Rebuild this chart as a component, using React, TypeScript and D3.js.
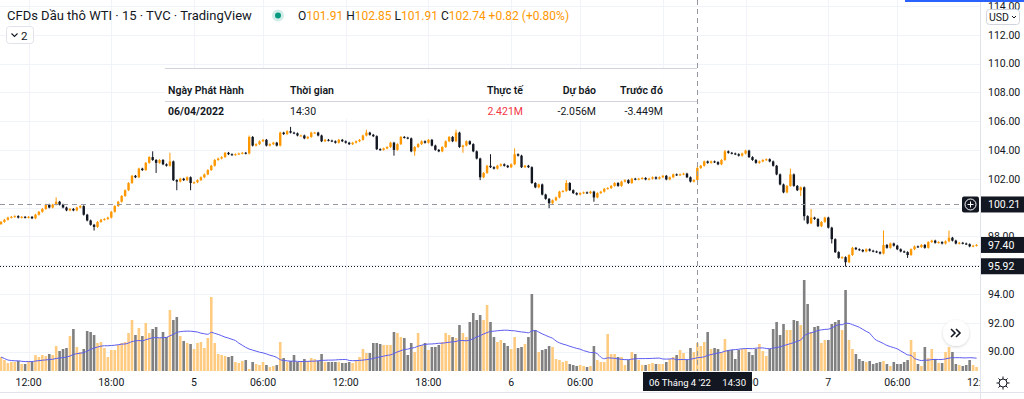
import React from 'react';
import * as d3 from 'd3';

// closes per trading day (15 min bars), opens are the previous close
const closeApr4 = [
  99.0, 99.15, 99.3, 99.35, 99.4, 99.3, 99.35, 99.3, 99.35, 99.25,
  99.5, 99.7, 99.9, 100.2, 100.0, 100.2, 100.4, 100.2, 100.0, 99.8,
  99.9, 99.8, 100.0, 100.1, 99.5, 99.1, 98.8, 98.65, 99.0, 99.15,
  99.2, 99.3, 99.7, 100.1, 100.4, 100.8, 101.2, 101.7, 102.2, 102.1,
  102.7, 102.6, 103.1, 103.5, 103.3, 103.1, 103.3, 103.0, 102.9, 103.2,
  101.9, 101.8, 102.0, 101.9, 102.1, 101.7,
];
const closeApr5 = [
  101.75, 101.9, 102.1, 102.3, 102.6, 102.9, 103.3, 103.4, 103.5, 103.8,
  103.7, 103.65, 103.7, 103.75, 103.8, 103.75, 104.9, 104.3, 104.4, 104.6,
  104.7, 104.3, 104.4, 104.5, 104.3, 105.2, 105.1, 105.3, 105.2, 105.15,
  105.0, 105.0, 104.8, 104.9, 105.2, 105.2, 105.0, 104.6, 104.7, 104.65,
  104.6, 104.5, 104.7, 104.6, 104.5, 104.4, 104.5, 104.6, 104.7, 105.0,
  105.2, 105.05, 104.95, 104.05, 104.0, 104.1, 104.2, 104.5, 104.0, 104.4,
  104.9, 104.85, 104.8, 103.9, 104.2, 104.4, 104.6, 104.5, 104.7, 104.3,
  104.0, 103.9, 104.2, 104.6, 104.9, 104.6, 105.2, 104.2, 104.3, 104.6,
  104.4, 103.9, 103.4, 102.1, 102.4, 102.9, 102.8, 102.7, 102.9, 103.0,
  102.9, 102.8,
];
const closeApr6 = [
  103.0, 103.7, 103.6, 102.8, 102.9, 102.8, 101.7, 101.4, 101.6, 100.9,
  100.6, 100.3, 100.5, 100.7, 101.1, 101.15, 101.7, 101.2, 101.0, 100.9,
  101.0, 101.05, 101.0, 101.1, 100.7, 101.0, 101.1, 101.3, 101.35, 101.5,
  101.7, 101.5, 101.8, 101.9, 101.7, 102.0, 101.95, 102.0, 102.05, 101.95,
  102.0, 102.1, 102.0, 102.1, 102.2, 101.95, 102.1, 102.3, 102.25, 102.3,
  102.35, 102.1, 101.8, 101.91, 102.74, 102.9, 103.2, 103.1, 103.2, 103.15,
  103.0, 103.3, 103.9, 103.8, 103.75, 103.7, 103.6, 103.75, 103.95, 103.5,
  103.3, 103.1, 103.2, 103.3, 103.35, 103.2, 102.9, 102.3, 101.6, 101.05,
  101.5, 102.3, 101.5, 101.2, 101.4, 99.4, 98.9, 99.3, 99.2, 98.7,
  99.0, 99.3,
];
const closeApr7 = [
  98.6, 97.8, 96.9, 96.5, 96.55, 96.2, 96.7, 97.2, 97.1, 97.05,
  96.95, 97.1, 97.0, 96.95, 96.9, 96.8, 97.4, 97.2, 97.5, 97.35,
  97.1, 96.95, 96.9, 96.7, 97.1, 97.3, 97.25, 97.4, 97.2, 97.6,
  97.7, 97.55, 97.6, 97.5, 97.65, 97.9, 97.7, 97.5, 97.55, 97.5,
  97.45, 97.3, 97.35, 97.4,
];
const firstOpen = 98.85;

// longer wicks: [bar index, price]
const wickHighs: [number, number][] = [
  [16, 100.7], [44, 103.9], [49, 103.8], [72, 105.0], [84, 105.6], [106, 105.4],
  [132, 105.4], [142, 103.7], [149, 104.1], [164, 101.9], [202, 102.85],
  [210, 104.0], [229, 102.7], [235, 99.9], [256, 98.4], [275, 98.4],
];
const wickLows: [number, number][] = [
  [27, 98.4], [45, 102.4], [51, 101.2], [55, 101.2], [114, 103.6], [120, 103.6],
  [134, 103.8], [139, 101.9], [159, 99.95], [172, 100.4], [202, 101.91],
  [232, 100.8], [233, 99.1], [241, 97.5], [245, 95.9], [263, 96.5],
];

const volApr4 = [
  14, 11, 8, 9, 9, 10, 7, 7, 10, 9, 16, 14, 16, 15, 17, 16, 25, 20, 22, 23,
  35, 42, 24, 19, 22, 40, 39, 36, 28, 29, 23, 14, 21, 21, 26, 28, 29, 38, 51, 36,
  43, 35, 48, 38, 42, 44, 33, 39, 34, 61, 51, 54, 35, 30, 28, 27,
];
const volApr5 = [
  22, 28, 29, 23, 33, 74, 28, 17, 16, 15, 14, 15, 9, 8, 10, 11, 2, 9, 7, 6,
  9, 6, 4, 5, 6, 29, 13, 9, 10, 16, 9, 10, 12, 10, 13, 12, 10, 17, 9, 9,
  9, 9, 9, 8, 8, 9, 8, 11, 14, 22, 18, 18, 28, 28, 27, 26, 26, 26, 39, 38,
  34, 33, 16, 28, 19, 38, 26, 28, 21, 24, 24, 26, 29, 38, 36, 34, 33, 46, 38, 34,
  49, 58, 51, 56, 51, 66, 49, 34, 29, 31, 28, 25,
];
const volApr6 = [
  22, 34, 23, 24, 27, 34, 77, 41, 19, 21, 22, 25, 24, 12, 11, 9, 10, 7, 6, 5,
  6, 5, 4, 5, 25, 11, 9, 9, 37, 17, 17, 14, 14, 6, 11, 19, 17, 11, 6, 6,
  7, 8, 7, 7, 7, 9, 12, 14, 16, 21, 18, 11, 23, 19, 28, 25, 29, 39, 22, 23,
  22, 19, 32, 21, 21, 12, 21, 22, 22, 19, 16, 22, 27, 20, 15, 22, 42, 49, 36, 47,
  41, 41, 51, 50, 46, 91, 67, 39, 44, 45, 28, 31,
];
const volApr7 = [
  31, 47, 49, 51, 41, 81, 31, 22, 17, 12, 10, 9, 10, 7, 8, 9, 10, 7, 5, 9,
  7, 7, 9, 11, 31, 19, 7, 5, 24, 13, 22, 12, 8, 8, 19, 24, 19, 7, 6, 5,
  6, 11, 6, 4,
];

const timeTicks = [
  { i: 8, label: '12:00' }, { i: 32, label: '18:00' }, { i: 56, label: '5' },
  { i: 76, label: '06:00' }, { i: 100, label: '12:00' }, { i: 124, label: '18:00' },
  { i: 148, label: '6' }, { i: 168, label: '06:00' }, { i: 192, label: '12:00' },
  { i: 216, label: '18:00' }, { i: 240, label: '7' }, { i: 260, label: '06:00' },
  { i: 284, label: '12:00' },
];
const priceTicks = [90, 92, 94, 96, 98, 100, 102, 104, 106, 108, 110, 112, 114];

const lastPrice = 97.4;
const lowMark = 95.92;
const crossPrice = 100.21;
const crossBar = 202;
const crossDate = "06 Tháng 4 '22";
const crossTime = '14:30';

const tableHead = ['Ngày Phát Hành', 'Thời gian', 'Thực tế', 'Dự báo', 'Trước đó'];
const tableRow = ['06/04/2022', '14:30', '2.421M', '-2.056M', '-3.449M'];

const FONT = 'Roboto, "Noto Sans", Arial, sans-serif';
const UP = '#ff9800';
const DOWN = '#131722';
const TEXT = '#131722';

export default function App() {
  const closes = [...closeApr4, ...closeApr5, ...closeApr6, ...closeApr7];
  const volumes = [...volApr4, ...volApr5, ...volApr6, ...volApr7];
  const hiMap = new Map(wickHighs);
  const loMap = new Map(wickLows);

  const candles = closes.map((c, i) => {
    const o = i === 0 ? firstOpen : closes[i - 1];
    return {
      i, o, c,
      h: hiMap.get(i) ?? Math.max(o, c) + 0.06,
      l: loMap.get(i) ?? Math.min(o, c) - 0.06,
      v: volumes[i],
    };
  });

  const plotRight = 980;
  const x = d3.scaleLinear().domain([0, 284]).range([1, 980]);
  const y = d3.scaleLinear().domain([90, 112]).range([351.5, 34.7]);
  const yv = d3.scaleLinear().domain([0, 100]).range([371, 271]);

  // volume moving average (20)
  const ma = volumes.map((_, i) => d3.mean(volumes.slice(Math.max(0, i - 19), i + 1)) as number);
  const maPath = d3.line<number>().x((_, i) => x(i)).y((v) => yv(v)).curve(d3.curveMonotoneX)(ma) || '';

  const bodyW = 2.4;
  const volW = 2.6;
  const cx = Math.round(x(crossBar));
  const boxL = cx - 54;
  const boxR = cx + 55;

  // price labels hidden by the marker boxes on the axis
  const boxed = [crossPrice, lowMark];
  const visibleTicks = priceTicks.filter((p) => boxed.every((b) => Math.abs(y(p) - y(b)) > 6));
  // time labels fully hidden by the crosshair label
  const visibleTime = timeTicks.filter((t) => !(x(t.i) - 14 > boxL && x(t.i) + 14 < boxR));

  return (
    <svg width={1024} height={399} style={{ position: 'absolute', left: 0, top: 0, display: 'block' }}
      fontFamily={FONT}>
      <defs>
        <clipPath id="plot"><rect x={0} y={0} width={plotRight} height={399} /></clipPath>
        <clipPath id="taxis">
          <rect x={0} y={0} width={boxL} height={399} />
          <rect x={boxR} y={0} width={plotRight - boxR} height={399} />
        </clipPath>
        <filter id="sh" x="-50%" y="-50%" width="200%" height="200%">
          <feDropShadow dx="0" dy="1" stdDeviation="1.5" floodColor="#000" floodOpacity="0.18" />
        </filter>
      </defs>
      <rect width={1024} height={399} fill="#fff" />

      {/* grid */}
      <g stroke="#f0f3fa" strokeWidth={1}>
        {priceTicks.map((p) => (
          <line key={p} x1={0} x2={plotRight} y1={Math.round(y(p)) + 0.5} y2={Math.round(y(p)) + 0.5} />
        ))}
        {timeTicks.map((t) => (
          <line key={t.i} x1={Math.round(x(t.i)) + 0.5} x2={Math.round(x(t.i)) + 0.5} y1={0} y2={371} />
        ))}
      </g>

      {/* volume */}
      <g clipPath="url(#plot)">
        {candles.map((d) => (
          <rect key={d.i} x={x(d.i) - volW / 2} width={volW} y={yv(d.v)} height={yv(0) - yv(d.v)}
            fill={d.c >= d.o ? '#ffcb80' : '#808080'} />
        ))}
        <path d={maPath} fill="none" stroke="#5c5cf0" strokeWidth={1} />
      </g>

      {/* candles */}
      <g clipPath="url(#plot)">
        {candles.map((d) => {
          const col = d.c >= d.o ? UP : DOWN;
          const top = y(Math.max(d.o, d.c));
          const h = Math.max(1, Math.abs(y(d.o) - y(d.c)));
          return (
            <g key={d.i}>
              <line x1={x(d.i)} x2={x(d.i)} y1={y(d.h)} y2={y(d.l)} stroke={col} strokeWidth={1} />
              <rect x={x(d.i) - bodyW / 2} y={top} width={bodyW} height={h} fill={col} />
            </g>
          );
        })}
      </g>

      {/* horizontal markers */}
      <line x1={0} x2={plotRight} y1={Math.round(y(lowMark)) + 0.5} y2={Math.round(y(lowMark)) + 0.5}
        stroke={TEXT} strokeDasharray="1 2" strokeWidth={1} />
      <line x1={0} x2={962} y1={Math.round(y(crossPrice)) + 0.5} y2={Math.round(y(crossPrice)) + 0.5}
        stroke="#9598a1" strokeDasharray="5 4" strokeWidth={1} />
      <line x1={cx + 0.5} x2={cx + 0.5} y1={0} y2={371}
        stroke="#9598a1" strokeDasharray="5 4" strokeWidth={1} />

      {/* event table */}
      <g fontSize={10.5} fill={TEXT}>
        <rect x={165} y={69} width={cx - 165} height={50} fill="#fff" fillOpacity={0.92} />
        <line x1={165} x2={cx} y1={68.5} y2={68.5} stroke="#d1d4dc" />
        <line x1={165} x2={cx} y1={101.5} y2={101.5} stroke="#d1d4dc" />
        <text x={168} y={93.5} fontWeight={600}>{tableHead[0]}</text>
        <text x={290} y={93.5} fontWeight={600}>{tableHead[1]}</text>
        <text x={523} y={93.5} fontWeight={600} textAnchor="end">{tableHead[2]}</text>
        <text x={596} y={93.5} fontWeight={600} textAnchor="end">{tableHead[3]}</text>
        <text x={663} y={93.5} fontWeight={600} textAnchor="end">{tableHead[4]}</text>
        <text x={168} y={114.5} fontWeight={700}>{tableRow[0]}</text>
        <text x={290} y={114.5}>{tableRow[1]}</text>
        <text x={523} y={114.5} textAnchor="end" fill="#f23645">{tableRow[2]}</text>
        <text x={596} y={114.5} textAnchor="end">{tableRow[3]}</text>
        <text x={663} y={114.5} textAnchor="end">{tableRow[4]}</text>
      </g>

      {/* legend */}
      <text x={7} y={20} fontSize={13} fill={TEXT}>CFDs Dầu thô WTI · 15 · TVC · TradingView</text>
      <circle cx={278} cy={15.5} r={6} fill="#089981" fillOpacity={0.18} />
      <circle cx={278} cy={15.5} r={3} fill="#089981" />
      <text x={298} y={20} fontSize={12} style={{ whiteSpace: 'pre' }}>
        <tspan fill={TEXT}>O</tspan><tspan fill={UP}>101.91 </tspan>
        <tspan fill={TEXT}>H</tspan><tspan fill={UP}>102.85 </tspan>
        <tspan fill={TEXT}>L</tspan><tspan fill={UP}>101.91 </tspan>
        <tspan fill={TEXT}>C</tspan><tspan fill={UP}>102.74 +0.82 (+0.80%)</tspan>
      </text>
      <rect x={6.5} y={26.5} width={27} height={17} rx={3} fill="#fff" stroke="#e0e3eb" />
      <path d="M11.5 33.5 l3 3 l3 -3" fill="none" stroke={TEXT} strokeWidth={1.1} />
      <text x={21} y={39.5} fontSize={11.5} fill={TEXT}>2</text>

      {/* time axis */}
      <line x1={0} x2={1024} y1={392.5} y2={392.5} stroke="#e0e3eb" />
      <g clipPath="url(#taxis)" fontSize={10.5} fill={TEXT} textAnchor="middle">
        {visibleTime.map((t) => (
          <text key={t.i} x={x(t.i)} y={386}>{t.label}</text>
        ))}
      </g>
      <rect x={boxL} y={372} width={boxR - boxL} height={19} fill={TEXT} />
      <text x={boxL + 6} y={385.5} fontSize={9.5} fill="#fff">{crossDate}</text>
      <text x={boxR - 6} y={385.5} fontSize={9.5} fill="#fff" textAnchor="end">{crossTime}</text>

      {/* price axis */}
      <rect x={plotRight} y={0} width={1024 - plotRight} height={392} fill="#fff" />
      <line x1={plotRight + 0.5} x2={plotRight + 0.5} y1={0} y2={399} stroke="#e0e3eb" />
      <g fontSize={10.5} fill={TEXT}>
        {visibleTicks.map((p) => (
          <text key={p} x={988} y={y(p) + 3.8}>{p.toFixed(2)}</text>
        ))}
      </g>
      <rect x={905} y={0} width={119} height={2} fill="#2962ff" />
      <rect x={986.5} y={9.5} width={33} height={15} rx={3} fill="#fff" stroke="#d1d4dc" />
      <text x={989} y={20.5} fontSize={10.5} fill={TEXT}>USD</text>
      <path d="M1012 16 l2 2 l2 -2" fill="none" stroke={TEXT} strokeWidth={1} />

      {[crossPrice, lastPrice, lowMark].map((p) => (
        <g key={p}>
          <rect x={981} y={y(p) - 8} width={43} height={16} fill={TEXT} />
          <text x={988} y={y(p) + 3.8} fontSize={10.5} fill="#fff">{p.toFixed(2)}</text>
        </g>
      ))}
      <rect x={962} y={y(crossPrice) - 8} width={17} height={16} rx={2} fill={TEXT} />
      <circle cx={970.5} cy={y(crossPrice)} r={5.5} fill="none" stroke="#fff" strokeWidth={1} />
      <path d={`M967.5 ${y(crossPrice)} h6 M970.5 ${y(crossPrice) - 3} v6`} stroke="#fff" strokeWidth={1} />

      {/* scroll button */}
      <circle cx={956} cy={333} r={13} fill="#fff" filter="url(#sh)" />
      <path d="M951 329 l4 4 l-4 4 M956 329 l4 4 l-4 4" fill="none" stroke={TEXT} strokeWidth={1.6} />

      {/* settings gear */}
      <g stroke={TEXT} strokeWidth={1} fill="none">
        <circle cx={1003} cy={383} r={4} />
        {d3.range(8).map((k) => {
          const a = (k * Math.PI) / 4;
          return (
            <line key={k} x1={1003 + Math.cos(a) * 4} y1={383 + Math.sin(a) * 4}
              x2={1003 + Math.cos(a) * 6.5} y2={383 + Math.sin(a) * 6.5} />
          );
        })}
      </g>
    </svg>
  );
}
